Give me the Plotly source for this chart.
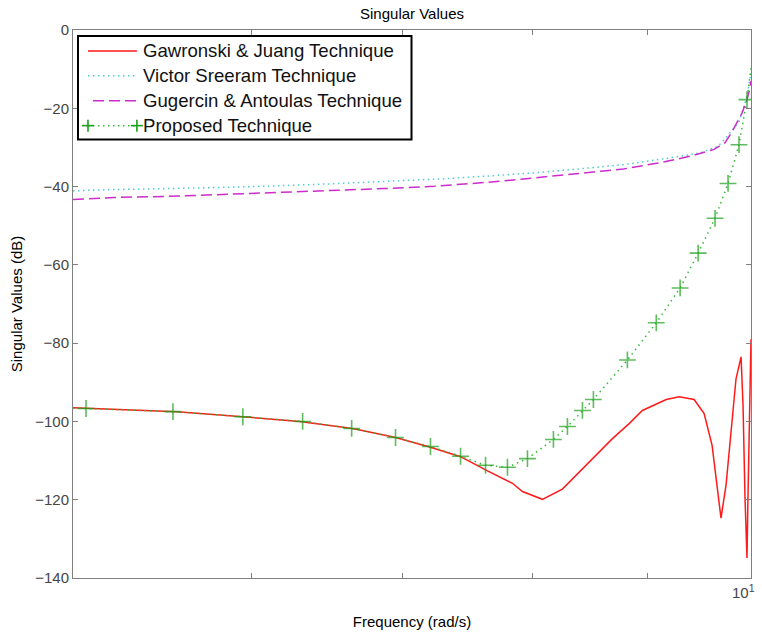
import plotly.graph_objects as go

# Frequency (rad/s) and singular value (dB) samples for each reduction technique
gj_freq = [5.000, 5.284, 5.561, 5.948, 6.304, 6.655, 6.953, 7.206, 7.431, 7.631,
           7.836, 7.916, 8.080, 8.246, 8.477, 8.679, 8.831, 8.949, 9.170, 9.291,
           9.435, 9.532, 9.610, 9.659, 9.698, 9.748, 9.798, 9.848, 9.899, 9.919,
           9.939, 9.959, 9.969, 9.990, 10.0]
gj_db = [-96.5, -97.0, -97.5, -98.8, -100.0, -101.8, -104.1, -106.6, -109.0, -112.5,
         -115.8, -117.9, -119.9, -117.3, -110.2, -104.4, -100.5, -97.2, -94.4, -93.7,
         -94.4, -98.0, -106.1, -116.3, -124.7, -116.3, -102.6, -89.1, -83.5, -96.0,
         -119.6, -134.9, -119.6, -94.2, -79.0]

vs_freq = [5.000, 5.167, 5.538, 6.102, 6.507, 6.975, 7.303, 7.646, 8.006, 8.383,
           8.777, 9.198, 9.493, 9.669, 9.748, 9.878, 9.959, 10.0]
vs_db = [-41.1, -40.8, -40.5, -39.9, -39.3, -38.6, -38.0, -37.3, -36.5, -35.5,
         -34.4, -32.7, -31.4, -29.7, -27.5, -23.5, -17.0, -11.0]

ga_freq = [5.000, 5.215, 5.589, 6.046, 6.447, 6.876, 7.236, 7.646, 8.006, 8.383,
           8.777, 9.114, 9.406, 9.629, 9.738, 9.808, 9.909, 9.959, 9.990, 10.0]
ga_db = [-43.3, -42.8, -42.4, -41.7, -41.1, -40.5, -39.9, -38.9, -37.8, -36.7,
         -35.5, -33.9, -32.2, -30.5, -28.8, -26.0, -21.2, -17.8, -14.8, -13.0]

pr_freq = [5.000, 5.067, 5.538, 5.948, 6.323, 6.648, 6.953, 7.206, 7.431, 7.623,
           7.796, 7.957, 8.171, 8.289, 8.417, 8.512, 8.813, 9.077, 9.301, 9.474,
           9.639, 9.768, 9.878, 9.959, 10.0]
pr_db = [-96.6, -96.7, -97.5, -98.8, -100.0, -101.8, -104.1, -106.4, -108.9, -111.2,
         -111.7, -109.5, -104.6, -101.3, -97.2, -94.4, -84.3, -74.8, -65.9, -57.0,
         -48.1, -39.2, -29.3, -17.8, -9.7]
# the first and last samples of the proposed curve carry no marker
pr_marker_size = [0] + [12] * (len(pr_freq) - 2) + [0]

y_ticks = [0, -20, -40, -60, -80, -100, -120, -140]
x_ticks = [6, 7, 8, 9, 10]

FONT = "Liberation Sans, Arial, sans-serif"
AXIS_GRAY = "#7f7f7f"
TICK_GRAY = "#454545"

W, H = 762, 637
M_L, M_R, M_T, M_B = 73, 10, 30, 57
PLOT_W = W - M_L - M_R
PLOT_H = H - M_T - M_B


def px_to_paper(px, py):
    """Convert a page pixel position into paper coordinates of the plot area."""
    return (px - M_L) / PLOT_W, (H - M_B - py) / PLOT_H


# (name, colour, width, dash, with plus markers)
series_style = [
    ("Gawronski & Juang Technique", "#ff1a1a", 1.5, "solid", False),
    ("Victor Sreeram Technique", "#4ccccc", 1.5, "dot", False),
    ("Gugercin & Antoulas Technique", "#cc2ccc", 1.5, "dash", False),
    ("Proposed Technique", "#1aa01a", 1.5, "dot", True),
]

fig = go.Figure()

fig.add_trace(go.Scatter(
    x=gj_freq, y=gj_db, mode="lines", name=series_style[0][0],
    line=dict(color="#ff1a1a", width=1.5)))

fig.add_trace(go.Scatter(
    x=vs_freq, y=vs_db, mode="lines", name=series_style[1][0],
    line=dict(color="#4ccccc", width=1.5, dash="1.5px,3.5px")))

fig.add_trace(go.Scatter(
    x=ga_freq, y=ga_db, mode="lines", name=series_style[2][0],
    line=dict(color="#cc2ccc", width=1.5, dash="11px,5px")))

fig.add_trace(go.Scatter(
    x=pr_freq, y=pr_db, mode="lines+markers", name=series_style[3][0],
    line=dict(color="#33bb33", width=1.5, dash="1.5px,4px"),
    marker=dict(symbol="cross-thin", size=pr_marker_size, color="#1aa01a",
                line=dict(color="#1aa01a", width=1.6))))

fig.update_layout(
    width=W, height=H,
    margin=dict(l=M_L, r=M_R, t=M_T, b=M_B),
    paper_bgcolor="white", plot_bgcolor="white",
    font=dict(family=FONT, size=15, color="#000000"),
    title=dict(text="Singular Values", x=0.5, xref="paper", xanchor="center",
               y=1 - 14 / H, yref="container", yanchor="middle",
               font=dict(family=FONT, size=15, color="#000000")),
    showlegend=False,
)

fig.update_xaxes(
    type="log", range=[0.69897, 1.0],
    tickvals=x_ticks, showticklabels=False,
    ticks="inside", ticklen=5, tickcolor=AXIS_GRAY,
    showline=True, linecolor=AXIS_GRAY, linewidth=1, mirror="allticks",
    showgrid=False, zeroline=False,
    title=dict(text="Frequency (rad/s)", standoff=38,
               font=dict(family=FONT, size=15, color="#000000")),
)

fig.update_yaxes(
    range=[-140, 0], tickvals=y_ticks,
    ticks="inside", ticklen=5, tickcolor=AXIS_GRAY,
    tickfont=dict(family=FONT, size=15, color=TICK_GRAY),
    showline=True, linecolor=AXIS_GRAY, linewidth=1, mirror="allticks",
    showgrid=False, zeroline=False,
    title=dict(text="Singular Values (dB)", standoff=8,
               font=dict(family=FONT, size=15, color="#000000")),
)

# decade label at the right end of the frequency axis
fig.add_annotation(
    x=1.0, y=0, xref="paper", yref="paper", xanchor="right", yanchor="top",
    xshift=6, yshift=-2, showarrow=False,
    text="10<sup>1</sup>", font=dict(family=FONT, size=15, color=TICK_GRAY))

# legend box in the upper-left corner of the axes
box_left, box_top, box_right, box_bottom = 78, 36, 412, 140
x0, y0 = px_to_paper(box_left, box_bottom)
x1, y1 = px_to_paper(box_right, box_top)
fig.add_shape(type="rect", xref="paper", yref="paper", x0=x0, y0=y0, x1=x1, y1=y1,
              line=dict(color="#000000", width=2), fillcolor="white", layer="above")

sample_x0, sample_x1, text_x = 88, 137, 141
row_y0, row_step = 51, 25
dash_map = {"solid": "solid", "dot": "1.5px,3.5px", "dash": "11px,5px"}
for i, (name, color, width, dash, plus) in enumerate(series_style):
    ry = row_y0 + i * row_step
    sx0, sy = px_to_paper(sample_x0 + (5 if dash == "dash" else 0), ry)
    sx1, _ = px_to_paper(sample_x1, ry)
    line_color = "#33bb33" if plus else color
    fig.add_shape(type="line", xref="paper", yref="paper", x0=sx0, y0=sy, x1=sx1, y1=sy,
                  line=dict(color=line_color, width=width, dash=dash_map[dash]),
                  layer="above")
    if plus:
        for cx in (sample_x0, sample_x1):
            hx0, hy = px_to_paper(cx - 6, ry)
            hx1, _ = px_to_paper(cx + 6, ry)
            vx, vy0 = px_to_paper(cx, ry + 6)
            _, vy1 = px_to_paper(cx, ry - 6)
            fig.add_shape(type="line", xref="paper", yref="paper",
                          x0=hx0, y0=hy, x1=hx1, y1=hy,
                          line=dict(color=color, width=1.6), layer="above")
            fig.add_shape(type="line", xref="paper", yref="paper",
                          x0=vx, y0=vy0, x1=vx, y1=vy1,
                          line=dict(color=color, width=1.6), layer="above")
    tx, ty = px_to_paper(text_x, ry)
    fig.add_annotation(x=tx, y=ty, xref="paper", yref="paper",
                       xanchor="left", yanchor="middle", showarrow=False,
                       text=name, font=dict(family=FONT, size=18.6, color="#111111"))

fig.write_html("out.html")
